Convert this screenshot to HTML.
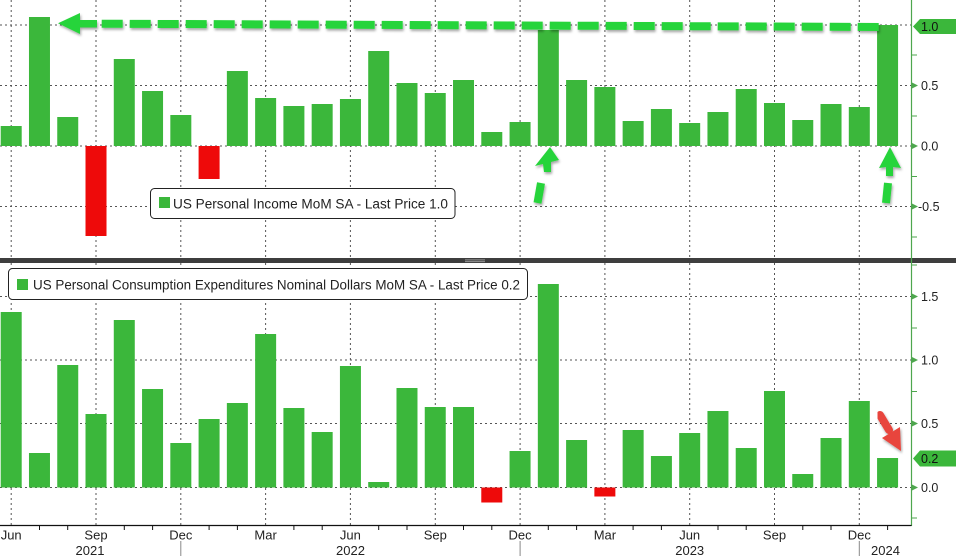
<!DOCTYPE html>
<html><head><meta charset="utf-8"><style>
html,body{margin:0;padding:0;background:#fff;}
svg{display:block;font-family:"Liberation Sans",sans-serif;}
</style></head><body>
<svg width="956" height="556" viewBox="0 0 956 556" xmlns="http://www.w3.org/2000/svg">
<rect x="0" y="0" width="956" height="556" fill="#fff"/>
<defs>
<filter id="sh" x="-10%" y="-50%" width="120%" height="200%"><feDropShadow dx="1" dy="2" stdDeviation="1.2" flood-color="#000" flood-opacity="0.35"/></filter>
</defs>
<!-- grid -->
<g stroke="#555" stroke-width="1" stroke-dasharray="2,3" fill="none">
<line x1="0" y1="25" x2="911" y2="25"/>
<line x1="0" y1="85.5" x2="911" y2="85.5"/>
<line x1="0" y1="146" x2="911" y2="146"/>
<line x1="0" y1="206.5" x2="911" y2="206.5"/>
<line x1="0" y1="296.5" x2="911" y2="296.5"/>
<line x1="0" y1="360" x2="911" y2="360"/>
<line x1="0" y1="423.5" x2="911" y2="423.5"/>
<line x1="0" y1="487.5" x2="911" y2="487.5"/>
<path d="M11.2 0V258M96 0V258M180.8 0V258M265.6 0V258M350.4 0V258M435.3 0V258M520.1 0V258M604.9 0V258M689.7 0V258M774.5 0V258M859.3 0V258"/>
<path d="M11.2 263V525M96 263V525M180.8 263V525M265.6 263V525M350.4 263V525M435.3 263V525M520.1 263V525M604.9 263V525M689.7 263V525M774.5 263V525M859.3 263V525"/>
</g>
<!-- top bars -->
<g fill="#3bb73b">
<rect x="0.7" y="126" width="21" height="20"/>
<rect x="28.97" y="17" width="21" height="129"/>
<rect x="57.24" y="117" width="21" height="29"/>
<rect x="113.78" y="59" width="21" height="87"/>
<rect x="142.05" y="91" width="21" height="55"/>
<rect x="170.32" y="115" width="21" height="31"/>
<rect x="226.86" y="71" width="21" height="75"/>
<rect x="255.13" y="98" width="21" height="48"/>
<rect x="283.4" y="106" width="21" height="40"/>
<rect x="311.67" y="104" width="21" height="42"/>
<rect x="339.94" y="99" width="21" height="47"/>
<rect x="368.21" y="51" width="21" height="95"/>
<rect x="396.48" y="83" width="21" height="63"/>
<rect x="424.75" y="93" width="21" height="53"/>
<rect x="453.02" y="80" width="21" height="66"/>
<rect x="481.29" y="132" width="21" height="14"/>
<rect x="509.56" y="122" width="21" height="24"/>
<rect x="537.83" y="30" width="21" height="116"/>
<rect x="566.1" y="80" width="21" height="66"/>
<rect x="594.37" y="87" width="21" height="59"/>
<rect x="622.64" y="121" width="21" height="25"/>
<rect x="650.91" y="109" width="21" height="37"/>
<rect x="679.18" y="123" width="21" height="23"/>
<rect x="707.45" y="112" width="21" height="34"/>
<rect x="735.72" y="89" width="21" height="57"/>
<rect x="763.99" y="103" width="21" height="43"/>
<rect x="792.26" y="120" width="21" height="26"/>
<rect x="820.53" y="104" width="21" height="42"/>
<rect x="848.8" y="107" width="21" height="39"/>
<rect x="877.07" y="25" width="21" height="121"/>
</g>
<g fill="#ee0a0a">
<rect x="85.51" y="146" width="21" height="90"/>
<rect x="198.59" y="146" width="21" height="33"/>
</g>
<!-- bottom bars -->
<g fill="#3bb73b">
<rect x="0.7" y="312" width="21" height="175.5"/>
<rect x="28.97" y="453" width="21" height="34.5"/>
<rect x="57.24" y="365" width="21" height="122.5"/>
<rect x="85.51" y="414" width="21" height="73.5"/>
<rect x="113.78" y="320" width="21" height="167.5"/>
<rect x="142.05" y="389" width="21" height="98.5"/>
<rect x="170.32" y="443" width="21" height="44.5"/>
<rect x="198.59" y="419" width="21" height="68.5"/>
<rect x="226.86" y="403" width="21" height="84.5"/>
<rect x="255.13" y="334" width="21" height="153.5"/>
<rect x="283.4" y="408" width="21" height="79.5"/>
<rect x="311.67" y="432" width="21" height="55.5"/>
<rect x="339.94" y="366" width="21" height="121.5"/>
<rect x="368.21" y="482" width="21" height="5.5"/>
<rect x="396.48" y="388" width="21" height="99.5"/>
<rect x="424.75" y="407" width="21" height="80.5"/>
<rect x="453.02" y="407" width="21" height="80.5"/>
<rect x="509.56" y="451" width="21" height="36.5"/>
<rect x="537.83" y="284" width="21" height="203.5"/>
<rect x="566.1" y="440" width="21" height="47.5"/>
<rect x="622.64" y="430" width="21" height="57.5"/>
<rect x="650.91" y="456" width="21" height="31.5"/>
<rect x="679.18" y="433" width="21" height="54.5"/>
<rect x="707.45" y="411" width="21" height="76.5"/>
<rect x="735.72" y="448" width="21" height="39.5"/>
<rect x="763.99" y="391" width="21" height="96.5"/>
<rect x="792.26" y="474" width="21" height="13.5"/>
<rect x="820.53" y="438" width="21" height="49.5"/>
<rect x="848.8" y="401" width="21" height="86.5"/>
<rect x="877.07" y="458" width="21" height="29.5"/>
</g>
<g fill="#ee0a0a">
<rect x="481.29" y="487.5" width="21" height="15"/>
<rect x="594.37" y="487.5" width="21" height="9"/>
</g>
<!-- dashed arrow top -->
<g filter="url(#sh)" fill="#27d43a" stroke="none">
<polygon points="58,23.3 80,13 80,20 97,20 97,27.5 80,27.5 80,34"/>
<line x1="101.7" y1="23.7" x2="878.7" y2="27" stroke="#27d43a" stroke-width="8" stroke-dasharray="21 7"/>
<!-- small up arrows -->
<polygon points="550,147 535,166 543,164 544,172 551,172 551,162 559,160"/>
<line x1="541" y1="183" x2="537.5" y2="203" stroke="#27d43a" stroke-width="8"/>
<polygon points="890,147 879,168 886,167 886,176 893,176 893,167 901,168"/>
<line x1="888" y1="183" x2="886" y2="203" stroke="#27d43a" stroke-width="8"/>
</g>
<!-- red arrow bottom -->
<g filter="url(#sh)" fill="#e8453c">
<line x1="880" y1="415" x2="889" y2="430" stroke="#e8453c" stroke-width="8" stroke-linecap="round"/>
<polygon points="882,438 900,427 901,451"/>
</g>
<!-- divider -->
<rect x="0" y="258" width="956" height="5" fill="#3e3e3e"/>
<rect x="465" y="259.5" width="20" height="0.8" fill="#aaa"/>
<rect x="465" y="261.3" width="20" height="0.8" fill="#aaa"/>
<!-- right axis -->
<line x1="911.5" y1="0" x2="911.5" y2="526" stroke="#4ea64e" stroke-width="1.2"/>
<g fill="#4ea64e">
<polygon points="912,82.5 918,85.5 912,88.5"/>
<polygon points="912,143 918,146 912,149"/>
<polygon points="912,203.5 918,206.5 912,209.5"/>
<polygon points="912,293.5 918,296.5 912,299.5"/>
<polygon points="912,357 918,360 912,363"/>
<polygon points="912,420.5 918,423.5 912,426.5"/>
<polygon points="912,484.5 918,487.5 912,490.5"/>
</g>
<g stroke="#4ea64e" stroke-width="1">
<path d="M912 55H917M912 116H917M912 176.5H917M912 237H917M912 265H917M912 328H917M912 391.5H917M912 518H917"/>
</g>
<g font-size="12.5" fill="#222">
<text x="921" y="90">0.5</text>
<text x="921" y="150.5">0.0</text>
<text x="918" y="211">-0.5</text>
<text x="921" y="301">1.5</text>
<text x="921" y="364.5">1.0</text>
<text x="921" y="428">0.5</text>
<text x="921" y="492">0.0</text>
</g>
<!-- highlighted last values -->
<polygon points="913,26.5 920,19 956,19 956,34 920,34" fill="#3bb73b"/>
<text x="921" y="31" font-size="12.5" fill="#111">1.0</text>
<polygon points="913,458.5 920,450.5 956,450.5 956,466.5 920,466.5" fill="#3bb73b"/>
<text x="921" y="463" font-size="12.5" fill="#111">0.2</text>
<!-- bottom axis -->
<line x1="0" y1="525.5" x2="911.5" y2="525.5" stroke="#111" stroke-width="1.3"/>
<g stroke="#111" stroke-width="1">
<path d="M39.5 525V530M67.7 525V530M124.3 525V530M152.6 525V530M209.1 525V530M237.4 525V530M293.9 525V530M322.2 525V530M378.7 525V530M407 525V530M463.5 525V530M491.8 525V530M548.3 525V530M576.6 525V530M633.1 525V530M661.4 525V530M718 525V530M746.2 525V530M802.8 525V530M831 525V530M887.6 525V530"/>
</g>
<g stroke="#888" stroke-width="1">
<path d="M180.8 541V556M520.1 541V556M859.3 541V556"/>
</g>
<g font-size="13" fill="#222" text-anchor="middle">
<text x="11.2" y="539.5">Jun</text>
<text x="96" y="539.5">Sep</text>
<text x="180.8" y="539.5">Dec</text>
<text x="265.6" y="539.5">Mar</text>
<text x="350.4" y="539.5">Jun</text>
<text x="435.3" y="539.5">Sep</text>
<text x="520.1" y="539.5">Dec</text>
<text x="604.9" y="539.5">Mar</text>
<text x="689.7" y="539.5">Jun</text>
<text x="774.5" y="539.5">Sep</text>
<text x="859.3" y="539.5">Dec</text>
<text x="90" y="555">2021</text>
<text x="350.5" y="555">2022</text>
<text x="689.7" y="555">2023</text>
<text x="885.5" y="555">2024</text>
</g>
<!-- legends -->
<rect x="150.5" y="188.5" width="304.5" height="30" rx="4" fill="#fff" stroke="#222" stroke-width="1"/>
<rect x="159" y="197" width="11" height="11" fill="#3bb73b"/>
<text x="173" y="208.5" font-size="13.5" fill="#222" textLength="275" lengthAdjust="spacingAndGlyphs">US Personal Income MoM SA - Last Price 1.0</text>
<rect x="8.5" y="268.5" width="519" height="31" rx="4" fill="#fff" stroke="#222" stroke-width="1"/>
<rect x="17" y="279" width="11" height="11" fill="#3bb73b"/>
<text x="33" y="289.5" font-size="13.5" fill="#222" textLength="487" lengthAdjust="spacingAndGlyphs">US Personal Consumption Expenditures Nominal Dollars MoM SA - Last Price 0.2</text>
</svg>
</body></html>
